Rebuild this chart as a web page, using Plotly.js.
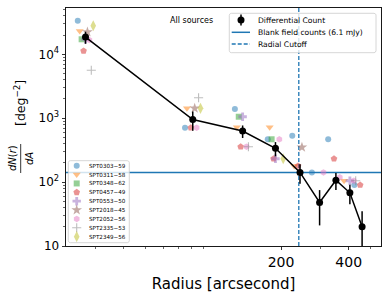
<!DOCTYPE html>
<html><head><meta charset="utf-8">
<script src="https://cdn.plot.ly/plotly-3.0.1.min.js"></script>
<style>html,body{margin:0;padding:0;background:#fff}#chart{width:390px;height:293px}</style>
</head><body><div id="chart"></div>
<script>
// ---------- data ----------
const radiusBins = [27, 81, 135, 189, 243, 297, 351, 405, 459];
const diffCount  = [18600, 955, 630, 338, 142, 48, 107, 68, 20];
const diffErr    = [4000, 320, 140, 85, 48, 27, 32, 23, 15];
const blankFieldCount = 142;
const radialCutoff = 240;

const clusterNames = ['SPT0303\u221259','SPT0311\u221258','SPT0348\u221262','SPT0457\u221249','SPT0553\u221250',
                      'SPT2018\u221245','SPT2052\u221256','SPT2335\u221253','SPT2349\u221256'];
const spt0303_59 = [33600, 710, 1393, 468, 532, 142, 468, null, 90];
const spt0311_58 = [23200, 1430, 720, 720, 179, null, null, 105, null];
const spt0348_62 = [17200, null, 1055, 468, null, null, null, null, null];
const spt0457_49 = [11300, 710, 358, 232, 179, null, 232, null, 90];
const spt0553_50 = [17200, null, 1055, 232, null, null, null, 105, null];
const spt2018_45 = [22300, 1430, null, null, 351, null, null, null, null];
const spt2052_56 = [16700, 710, 358, 468, null, 142, 119, 105, null];
const spt2335_53 = [5620, 2090, 358, null, null, null, null, 105, null];
const spt2349_56 = [28000, 1430, null, 232, null, null, null, null, null];
const clusterValues = [spt0303_59, spt0311_58, spt0348_62, spt0457_49, spt0553_50,
                       spt2018_45, spt2052_56, spt2335_53, spt2349_56];

const xTickVals = [200, 400];
const xTickText = ['200', '400'];
const yTickVals = [10, 100, 1000, 10000];
const yTickText = ['10', '10<sup>2</sup>', '10<sup>3</sup>', '10<sup>4</sup>'];

// ---------- styles ----------
const FONT = 'DejaVu Sans, sans-serif';
const colors  = ['#1f77b4','#ff7f0e','#2ca02c','#d62728','#9467bd','#8c564b','#e377c2','#7f7f7f','#bcbd22'];
const symbols = ['circle','triangle-down','square','pentagon','cross','star','hexagon','cross-thin','diamond-tall'];
const sizes   = [6, 7, 6, 7, 7, 8, 6.5, 6.5, 8];
const dodge = 1.02;
const C0 = '#1f77b4';

const traces = [];
clusterValues.forEach((vals, i) => {
  const thin = symbols[i] === 'cross-thin';
  traces.push({
    type: 'scatter', mode: 'markers', name: clusterNames[i], showlegend: false,
    x: radiusBins.map(r => r * Math.pow(dodge, i - 4)), y: vals,
    marker: {symbol: symbols[i], size: sizes[i], color: colors[i], opacity: 0.5,
             line: thin ? {color: colors[i], width: 1.1} : {width: 0}},
    hoverinfo: 'skip'
  });
});
traces.push({type:'scatter', mode:'lines', x: radiusBins, y: diffCount, showlegend:false,
             line:{color:'#000', width:1.5}, hoverinfo:'skip'});
traces.push({type:'scatter', mode:'markers', name:'Differential Count', x: radiusBins, y: diffCount, showlegend:false,
             marker:{color:'#000', size:7},
             error_y:{type:'data', array: diffErr, visible:true, color:'#000', thickness:1.5, width:0}});

// ---------- manual legends on an overlay pixel-space axis ----------
function roundRect(x0, y0, x1, y1, r) {
  const xs = [], ys = [];
  const corners = [[x1 - r, y0 + r, -90], [x1 - r, y1 - r, 0], [x0 + r, y1 - r, 90], [x0 + r, y0 + r, 180]];
  corners.forEach(([cx, cy, a0]) => {
    for (let k = 0; k <= 6; k++) {
      const a = (a0 + k * 15) * Math.PI / 180;
      xs.push(cx + r * Math.cos(a)); ys.push(cy + r * Math.sin(a));
    }
  });
  xs.push(xs[0]); ys.push(ys[0]);
  return {xs, ys};
}
const box = (x0, y0, x1, y1) => {
  const p = roundRect(x0, y0, x1, y1, 2);
  return {type:'scatter', mode:'lines', x:p.xs, y:p.ys, xaxis:'x2', yaxis:'y2', fill:'toself',
          fillcolor:'rgba(255,255,255,0.8)', line:{color:'#cccccc', width:0.8}, showlegend:false, hoverinfo:'skip'};
};
traces.push(box(229.3, 13.3, 376, 52.7));
traces.push({type:'scatter', mode:'markers', x:[241], y:[20], xaxis:'x2', yaxis:'y2', showlegend:false, hoverinfo:'skip',
             marker:{color:'#000', size:7}, error_y:{type:'constant', value:5.5, color:'#000', thickness:1.5, width:0}});
traces.push({type:'scatter', mode:'lines', x:[231.7, 250], y:[32.3, 32.3], xaxis:'x2', yaxis:'y2', showlegend:false,
             hoverinfo:'skip', line:{color:C0, width:1.5}});
traces.push({type:'scatter', mode:'lines', x:[231.7, 250], y:[44, 44], xaxis:'x2', yaxis:'y2', showlegend:false,
             hoverinfo:'skip', line:{color:C0, width:1.5, dash:'4px,2px'}});

traces.push(box(68.3, 160.7, 129.3, 242.7));
const leg2Y = clusterNames.map((_, i) => 165.7 + 8.87 * i);
clusterNames.forEach((n, i) => {
  const thin = symbols[i] === 'cross-thin';
  traces.push({type:'scatter', mode:'markers', x:[76.7], y:[leg2Y[i]], xaxis:'x2', yaxis:'y2', showlegend:false, hoverinfo:'skip',
               marker:{symbol:symbols[i], size:sizes[i], color:colors[i], opacity:0.5,
                       line: thin ? {color: colors[i], width: 1.1} : {width: 0}}});
});

const annotations = [];
const legText = (x, y, t, s) => annotations.push({xref:'x2', yref:'y2', x, y, text:t, showarrow:false,
                     xanchor:'left', yanchor:'middle', font:{family:FONT, size:s, color:'#000'}});
legText(256, 20, 'Differential Count', 7.6);
legText(256, 32.3, 'Blank field counts (6.1 mJy)', 7.6);
legText(256, 44, 'Radial Cutoff', 7.6);
clusterNames.forEach((n, i) => legText(87.2, leg2Y[i], n, 5.6));
annotations.push({xref:'x2', yref:'y2', x:191.5, y:20.7, text:'All sources', showarrow:false,
                  xanchor:'center', yanchor:'middle', font:{family:FONT, size:8, color:'#000'}});

// y-axis title built from pieces (fraction)
const PL = 66, PW = 315, PB = 246, PH = 238;
const px = x => (x - PL) / PW, py = y => (PB - y) / PH;
annotations.push({xref:'paper', yref:'paper', x:px(12), y:py(158), text:'<i>dN</i>(<i>r</i>)', textangle:-90,
                  showarrow:false, xanchor:'center', yanchor:'middle', font:{family:FONT, size:10, color:'#000'}});
annotations.push({xref:'paper', yref:'paper', x:px(29), y:py(159), text:'<i>dA</i>', textangle:-90,
                  showarrow:false, xanchor:'center', yanchor:'middle', font:{family:FONT, size:10, color:'#000'}});
annotations.push({xref:'paper', yref:'paper', x:px(20), y:py(103), text:'[deg<sup>\u22122</sup>]', textangle:-90,
                  showarrow:false, xanchor:'center', yanchor:'middle', font:{family:FONT, size:12.5, color:'#000'}});

const shapes = [
  {type:'line', xref:'paper', yref:'y', x0:0, x1:1, y0:blankFieldCount, y1:blankFieldCount,
   line:{color:C0, width:1.5}, layer:'below'},
  {type:'line', xref:'x', yref:'paper', x0:radialCutoff, x1:radialCutoff, y0:0, y1:1,
   line:{color:C0, width:1.3, dash:'4px,2px'}, layer:'below'},
  {type:'line', xref:'paper', yref:'paper', x0:px(20.7), x1:px(20.7), y0:py(144), y1:py(173),
   line:{color:'#000', width:0.8}}
];

const minorX = [30, 40, 50, 60, 70, 80, 90, 300, 500];
const minorY = [];
[10, 100, 1000, 10000].forEach(d => { for (let k = 2; k <= 9; k++) if (d * k < 52000) minorY.push(d * k); });

const layout = {
  width: 390, height: 293,
  margin: {l: PL, r: 390 - PL - PW, t: 8, b: 293 - 8 - PH},
  paper_bgcolor: '#fff', plot_bgcolor: '#fff',
  font: {family: FONT, color: '#000'},
  showlegend: false,
  xaxis: {type:'log', range:[1.3446, 2.7459], tickmode:'array', tickvals:xTickVals, ticktext:xTickText,
          ticks:'outside', ticklen:3.5, tickwidth:0.8, tickcolor:'#000', showline:true, mirror:true,
          linecolor:'#000', linewidth:0.9, showgrid:false, zeroline:false,
          tickfont:{family:FONT, size:14, color:'#000'},
          minor:{tickmode:'array', tickvals:minorX, ticks:'outside', ticklen:2, tickwidth:0.6, tickcolor:'#000', showgrid:false},
          title:{text:'Radius [arcsecond]', font:{family:FONT, size:15, color:'#000'}, standoff:9}},
  yaxis: {type:'log', range:[1, 4.725], tickmode:'array', tickvals:yTickVals, ticktext:yTickText,
          ticks:'outside', ticklen:3.5, tickwidth:0.8, tickcolor:'#000', showline:true, mirror:true,
          linecolor:'#000', linewidth:0.9, showgrid:false, zeroline:false,
          tickfont:{family:FONT, size:12, color:'#000'},
          minor:{tickmode:'array', tickvals:minorY, ticks:'outside', ticklen:2, tickwidth:0.6, tickcolor:'#000', showgrid:false}},
  xaxis2: {overlaying:'x', range:[PL, PL + PW], visible:false, fixedrange:true},
  yaxis2: {overlaying:'y', range:[PB, PB - PH], visible:false, fixedrange:true},
  annotations, shapes
};

Plotly.newPlot('chart', traces, layout, {staticPlot:true, displayModeBar:false});
</script></body></html>
